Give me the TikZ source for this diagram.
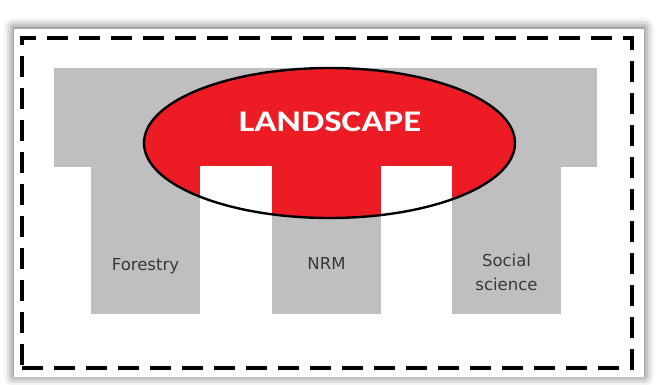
\documentclass[tikz,border=0pt]{standalone}
\usepackage{fontspec}
\setmainfont{Carlito}
\newfontfamily\labelfont{DejaVu Sans}
\usetikzlibrary{positioning,shapes.geometric,shadows.blur}

\definecolor{paintred}{RGB}{237,28,36}
\definecolor{pillargray}{RGB}{191,191,191}
\definecolor{labelgray}{RGB}{56,56,56}

\tikzset{
  block/.style={rectangle,fill=pillargray,inner sep=0pt,outer sep=0pt},
  pillar/.style={block,minimum width=109pt,minimum height=148pt},
  oval/.style={ellipse,minimum width=371pt,minimum height=150pt,inner sep=0pt,outer sep=0pt},
  discipline/.style={font=\labelfont\fontsize{16.5}{24}\selectfont,text=labelgray,align=center},
}

\begin{document}
\begin{tikzpicture}[x=1pt,y=-1pt]
\useasboundingbox (0,0) rectangle (657,385);

% white card with a soft shadow and the dashed frame
\node[rectangle,fill=white,inner sep=0pt,minimum width=630pt,minimum height=348pt,
  blur shadow={shadow xshift=0pt,shadow yshift=1pt,shadow blur radius=10pt,shadow opacity=70}]
  (card) at (329,203) {};
\node[rectangle,draw,line width=4pt,dash pattern=on 21pt off 11pt,inner sep=0pt,
  minimum width=610pt,minimum height=330pt] (frame) at (327,203) {};

% grey roof and the three pillars
\node[block,minimum width=543pt,minimum height=99pt] (roof) at (325.5,117.5) {};
\node[pillar] (forestry) at (145.5,240) {};
\node[pillar,right=72pt of forestry] (nrm) {};
\node[pillar,right=71pt of nrm] (social) {};

% the landscape oval, with the gaps cut out below the roof
\node[oval,fill=paintred] (landscape) at (329.5,143) {};
\fill[white] (forestry.north east) rectangle ([yshift=-60pt]nrm.north west);
\fill[white] (nrm.north east) rectangle ([yshift=-60pt]social.north west);
\node[oval,draw,line width=2.4pt] at (landscape) {};

\node[font=\bfseries\fontsize{30}{36}\selectfont,text=white] (title) at (330,122)
  {\scalebox{1.23}[1]{LANDSCAPE}};

\node[discipline] (forestrylabel) at ([yshift=-26pt]forestry.center) {Forestry};
\node[discipline] (nrmlabel) at ([yshift=-23pt]nrm.center) {NRM};
\node[discipline] (sociallabel) at ([yshift=-32pt]social.center) {Social\\science};
\end{tikzpicture}
\end{document}
